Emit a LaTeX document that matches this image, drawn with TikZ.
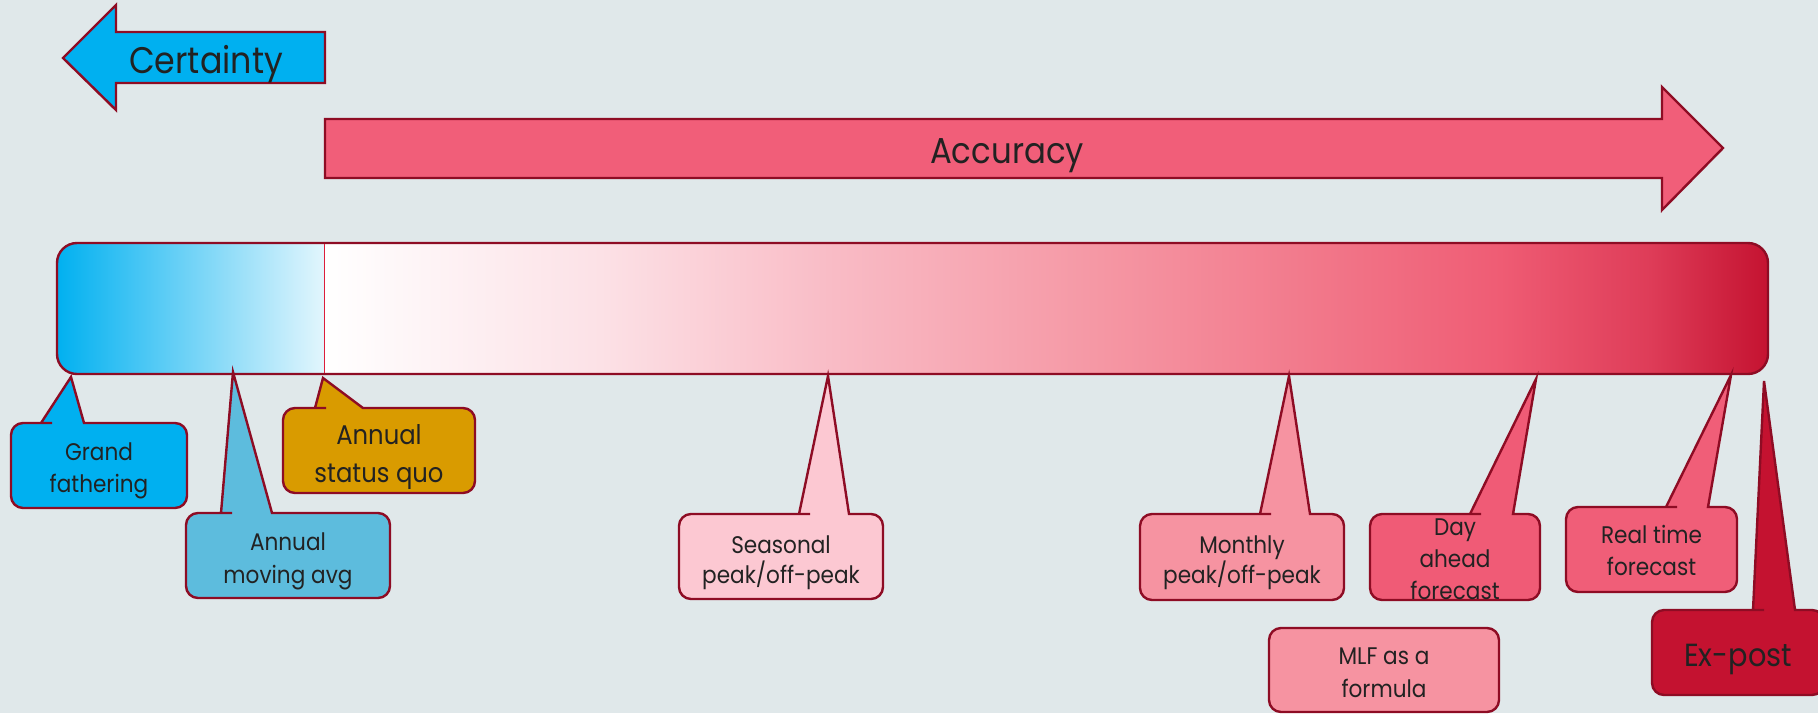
\documentclass[tikz,border=0pt]{standalone}
\usepackage{fontspec}
\setmainfont[FakeStretch=0.9]{Poppins}
\definecolor{bg}{RGB}{224,232,234}
\definecolor{edge}{RGB}{142,12,36}
\definecolor{txt}{RGB}{34,34,34}
\definecolor{cyanf}{RGB}{0,176,240}
\definecolor{accf}{RGB}{241,94,121}
\definecolor{movf}{RGB}{93,188,221}
\definecolor{sqf}{RGB}{217,155,0}
\definecolor{seasf}{RGB}{252,200,210}
\definecolor{monf}{RGB}{246,147,161}
\definecolor{dayf}{RGB}{240,91,118}
\definecolor{rtf}{RGB}{240,94,120}
\definecolor{exf}{RGB}{196,18,48}
\definecolor{divline}{RGB}{220,30,60}
\definecolor{g0}{RGB}{0,176,240}
\definecolor{g1}{RGB}{227,246,253}
\definecolor{p0}{RGB}{255,255,255}
\definecolor{p1}{RGB}{252,225,230}
\definecolor{p2}{RGB}{249,188,198}
\definecolor{p3}{RGB}{245,151,164}
\definecolor{p4}{RGB}{242,122,140}
\definecolor{p5}{RGB}{239,92,116}
\definecolor{p6}{RGB}{222,60,88}
\definecolor{p7}{RGB}{196,18,48}
\newcommand{\topst}{\rule{0pt}{1em}}
\newcommand{\botst}{\rule[-1em]{0pt}{1em}}
% fill, x1, y1, x2, y2, base1, base2, tip
\newcommand{\callout}[8]{%
  \filldraw[edgeline, fill=#1] (#6,#3) -- (#8) -- (#7,#3) -- ({#7+1},#3)
    [rounded corners=6pt] -- (#4,#3) -- (#4,#5) -- (#2,#5) -- (#2,#3) -- ({#6-1},#3)
    [sharp corners] -- cycle;}
\begin{document}
\begin{tikzpicture}[x=0.5pt,y=-0.5pt,
  edgeline/.style={draw=edge,line width=1.2pt,line join=miter},
  lbl/.style={text=txt,align=center,inner sep=0pt},
  small/.style={font=\fontsize{12}{16}\selectfont},
]
\path[use as bounding box, fill=bg] (0,0) rectangle (1818,713);
\clip (0,0) rectangle (1818,713);

% Certainty arrow
\filldraw[edgeline, fill=cyanf] (325,32) -- (116,32) -- (116,5) -- (63,58) -- (116,110) -- (116,83) -- (325,83) -- cycle;
\node[lbl, font=\fontsize{18.5}{22}\selectfont, anchor=base] (cert) at (206,73) {Certainty};

% Accuracy arrow
\filldraw[edgeline, fill=accf] (325,119) -- (1662,119) -- (1662,87) -- (1723,148) -- (1662,210) -- (1662,178) -- (325,178) -- cycle;
\node[lbl, font=\fontsize{18}{22}\selectfont, anchor=base] (acc) at (1007,163) {Accuracy};

% gradient bar
\begin{scope}
  \clip[rounded corners=10pt] (57,243) rectangle (1768,374);
  \shade[left color=g0, right color=g1] (56,242) rectangle (325,375);
  \shade[left color=p0, right color=p1] (324,242) rectangle (601,375);
  \shade[left color=p1, right color=p2] (600,242) rectangle (829,375);
  \shade[left color=p2, right color=p3] (828,242) rectangle (1101,375);
  \shade[left color=p3, right color=p4] (1100,242) rectangle (1301,375);
  \shade[left color=p4, right color=p5] (1300,242) rectangle (1501,375);
  \shade[left color=p5, right color=p6] (1500,242) rectangle (1651,375);
  \shade[left color=p6, right color=p7] (1650,242) rectangle (1770,375);
\end{scope}
\draw[edgeline, rounded corners=10pt] (57,243) rectangle (1768,374);
\draw[line width=0.5pt, draw=divline] (324,244) -- (324,373);

% callouts
\callout{cyanf}{11}{423}{187}{508}{41}{84}{71,377}
\node[lbl, small] (gf) at (99,476) {\topst Grand\\fathering\botst};

\callout{movf}{186}{513}{390}{598}{221}{272}{233,372}
\node[lbl, font=\fontsize{12}{16.5}\selectfont] (mov) at (288,566.5) {\topst Annual\\moving avg\botst};

\callout{sqf}{283}{408}{475}{493}{315}{363}{323,378}
\node[lbl, font=\fontsize{13.5}{19}\selectfont] (sq) at (379,463) {\topst Annual\\status quo\botst};

\callout{seasf}{679}{514}{883}{599}{799}{849}{828,376}
\node[lbl, font=\fontsize{12}{15}\selectfont] (seas) at (781,568) {\topst Seasonal\\peak/off-peak\botst};

\callout{monf}{1140}{514}{1344}{600}{1260}{1310}{1289,376}
\node[lbl, font=\fontsize{12}{15}\selectfont] (mon) at (1242,568) {\topst Monthly\\peak/off-peak\botst};

\callout{dayf}{1370}{514}{1540}{600}{1470}{1513}{1536,379}
\node[lbl, small] (day) at (1455,567) {\topst Day\\ahead\\forecast\botst};

\filldraw[edgeline, fill=monf, rounded corners=6pt] (1269,628) rectangle (1499,712);
\node[lbl, font=\fontsize{12}{16.5}\selectfont] (mlf) at (1384,680.5) {\topst MLF as a\\formula\botst};

\callout{rtf}{1566}{507}{1737}{592}{1666}{1708}{1731,375}
\node[lbl, small] (rt) at (1651.5,559) {\topst Real time\\forecast\botst};

\callout{exf}{1652}{610}{1824}{695}{1753}{1795}{1764,381}
\node[lbl, font=\fontsize{16}{20}\selectfont, anchor=base] (ex) at (1738,666) {Ex-post};
\end{tikzpicture}
\end{document}
